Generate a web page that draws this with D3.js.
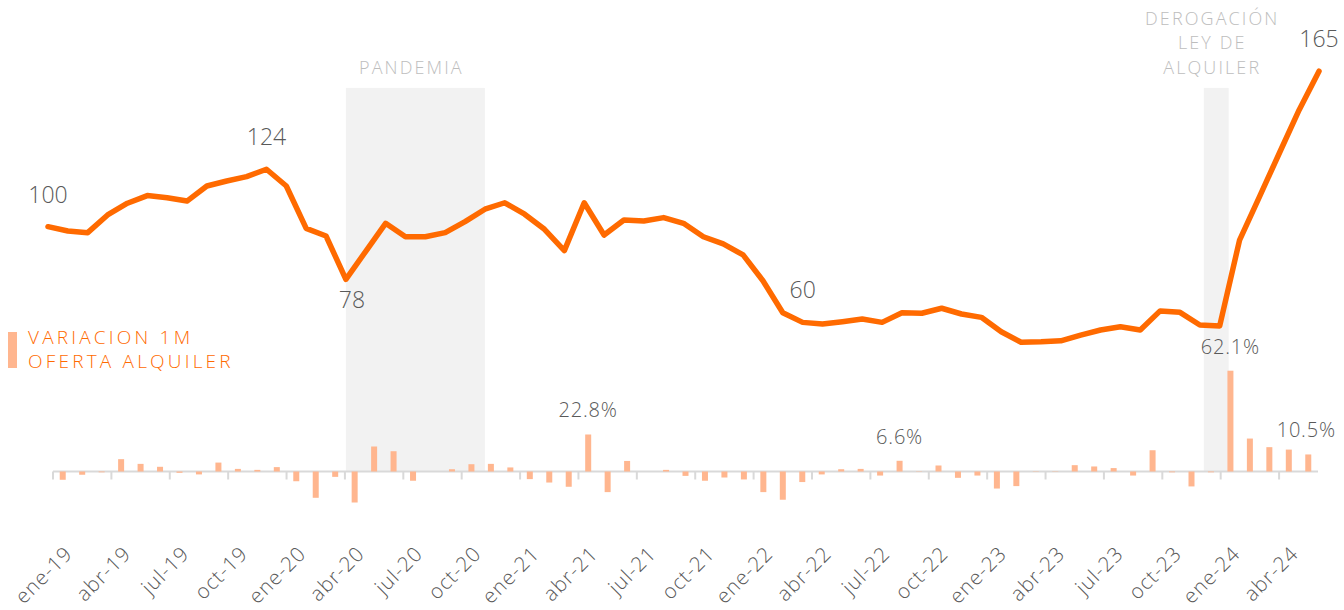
<!DOCTYPE html>
<html><head><meta charset="utf-8">
<script src="https://cdn.jsdelivr.net/npm/d3@7"></script>
<style>
html,body{margin:0;padding:0;background:#fff;}
svg{display:block;font-family:"Open Sans",sans-serif;}
</style></head>
<body><svg id="c" width="1344" height="610"></svg>
<script>
const monthNames = ["ene","feb","mar","abr","may","jun","jul","ago","sep","oct","nov","dic"];
const years = ["19","20","21","22","23","24"];
const lastMonthCount = 5; // 2024 runs ene..may
const categories = [];
years.forEach((y, yi) => {
  const n = yi === years.length - 1 ? lastMonthCount : 12;
  for (let m = 0; m < n; m++) categories.push(monthNames[m] + "-" + y);
});

// Index of rental offer (ene-19 = 100)
const indexValues = [
  100, 98.2, 97.5, 104.9, 109.8, 113.0, 112.1, 110.7, 117.0, 119.1, 120.9, 124,
  117.0, 99.3, 96.1, 78, 89.7, 101.4, 95.8, 95.8, 97.5, 102.1, 107.3, 110.0,
  105.2, 98.9, 90.0, 110.0, 96.5, 102.8, 102.4, 103.8, 101.4, 95.8, 92.8, 88.2,
  77.4, 64.0, 60, 59.3, 60.3, 61.4, 60.0, 64.0, 63.8, 65.9, 63.5, 62.1,
  56.1, 51.7, 51.9, 52.3, 54.7, 56.8, 58.2, 56.8, 64.8, 64.2, 58.9, 58.5,
  94.4, 112.5, 130.7, 148.8, 165
];

// Monthly variation (%)
const monthlyVariation = [
  -5.1, -2.0, -0.5, 7.6, 4.7, 2.9, -0.8, -1.8, 5.5, 1.6, 1.0, 2.7,
  -6.0, -16.2, -3.3, -19.1, 15.4, 12.5, -5.7, 0, 1.4, 4.5, 4.7, 2.5,
  -4.7, -6.8, -9.4, 22.8, -12.7, 6.5, 0, 1.0, -2.7, -5.7, -3.7, -4.9,
  -12.7, -17.4, -6.5, -1.8, 1.4, 1.6, -2.5, 6.6, -0.2, 3.7, -3.9, -2.5,
  -10.5, -9.0, 0.2, 0.2, 3.9, 3.1, 2.1, -2.5, 13.1, -0.5, -9.2, -0.5,
  62.1, 20.3, 15.0, 13.5, 10.5
];

const lineLabelIdx = [0, 11, 15, 38, 64];       // 100, 124, 78, 60, 165
const lineLabelBelow = [15];
const barLabelIdx = [27, 43, 60, 64];           // 22.8%, 6.6%, 62.1%, 10.5%

const events = [
  {lines: ["PANDEMIA"], from: 15, to: 22},
  {lines: ["DEROGACIÓN", "LEY DE", "ALQUILER"], from: 58.2, to: 59.45}
];
const legendLines = ["VARIACION 1M", "OFERTA ALQUILER"];

const ORANGE = "#ff6a00", BAR = "#ffb68f", SHADE = "#f2f2f2",
      TXT = "#595959", NOTE = "#bdbdbd", AXIS = "#d9d9d9";

const svg = d3.select("#c");

const xLine = d3.scaleLinear().domain([0, categories.length - 1]).range([48, 1319]);
const xBand = d3.scaleBand().domain(categories).range([53, 1318]).paddingInner(0).paddingOuter(0);
const yLine = d3.scaleLinear().domain([0, 180]).range([465.9, 35.3]);
const yBar = d3.scaleLinear().domain([-20, 65]).range([471.5 + 20*1.623, 471.5 - 65*1.623]);

// shaded periods
const gEv = svg.append("g");
events.forEach(e => {
  const x0 = xLine(e.from), x1 = xLine(e.to);
  gEv.append("rect").attr("x", x0).attr("width", x1 - x0)
    .attr("y", yLine(158)).attr("height", yBar(0) - yLine(158)).attr("fill", SHADE);
});
// event labels
const evText = svg.append("g").attr("fill", NOTE).attr("font-weight", 300)
  .attr("font-size", 18).attr("letter-spacing", 2.1).attr("text-anchor", "middle");
events.forEach(e => {
  const cx = (xLine(e.from) + xLine(e.to)) / 2 - 4;
  const n = e.lines.length;
  e.lines.forEach((t, k) => {
    evText.append("text").attr("x", cx).attr("y", yLine(158) - 14 - (n - 1 - k) * 24.5)
      .text(t);
  });
});

// x axis baseline + ticks
const axisG = svg.append("g");
axisG.append("line").attr("x1", xBand.range()[0]).attr("x2", xBand.range()[1])
  .attr("y1", yBar(0)).attr("y2", yBar(0)).attr("stroke", AXIS).attr("stroke-width", 2);
categories.forEach((c, i) => {
  if (i % 3 === 0) {
    axisG.append("line").attr("x1", xBand(c)).attr("x2", xBand(c))
      .attr("y1", yBar(0)).attr("y2", yBar(0) + 8).attr("stroke", AXIS).attr("stroke-width", 2);
    axisG.append("text")
      .attr("transform", `translate(${xBand(c) + xBand.bandwidth()/2 + 11},${555}) rotate(-45)`)
      .attr("text-anchor", "end").attr("fill", TXT).attr("font-size", 20.5)
      .attr("font-weight", 300).attr("letter-spacing", 1).text(c);
  }
});

// bars
const bw = 6;
svg.append("g").selectAll("rect").data(monthlyVariation).join("rect")
  .attr("x", (d, i) => xBand(categories[i]) + xBand.bandwidth()/2 - bw/2)
  .attr("width", bw)
  .attr("y", d => d >= 0 ? yBar(d) : yBar(0))
  .attr("height", d => Math.abs(yBar(d) - yBar(0)))
  .attr("fill", BAR);

// bar labels
svg.append("g").selectAll("text").data(barLabelIdx).join("text")
  .attr("x", i => xBand(categories[i]) + xBand.bandwidth()/2 - (i === 64 ? 2 : 0))
  .attr("y", i => yBar(monthlyVariation[i]) - 17)
  .attr("text-anchor", "middle").attr("fill", TXT).attr("font-size", 20)
  .attr("font-weight", 300).attr("letter-spacing", 0.8)
  .text(i => monthlyVariation[i].toFixed(1) + "%");

// line
svg.append("path").datum(indexValues)
  .attr("d", d3.line().x((d, i) => xLine(i)).y(d => yLine(d)))
  .attr("fill", "none").attr("stroke", ORANGE).attr("stroke-width", 5.5)
  .attr("stroke-linejoin", "round").attr("stroke-linecap", "round");

// line labels
svg.append("g").selectAll("text").data(lineLabelIdx).join("text")
  .attr("x", i => xLine(i) + (i === 15 ? 6 : 0))
  .attr("y", i => lineLabelBelow.includes(i) ? yLine(indexValues[i]) + 29 : yLine(indexValues[i]) - 24)
  .attr("text-anchor", "middle").attr("fill", TXT).attr("font-size", 23)
  .attr("font-weight", 300)
  .text(i => Math.round(indexValues[i]));

// legend
const lg = svg.append("g");
lg.append("rect").attr("x", 8).attr("y", 332).attr("width", 9).attr("height", 36).attr("fill", BAR);
legendLines.forEach((t, k) => {
  lg.append("text").attr("x", 28).attr("y", 344 + k * 24).attr("fill", ORANGE)
    .attr("font-size", 19).attr("font-weight", 300).attr("letter-spacing", 3.2).text(t);
});
</script></body></html>
